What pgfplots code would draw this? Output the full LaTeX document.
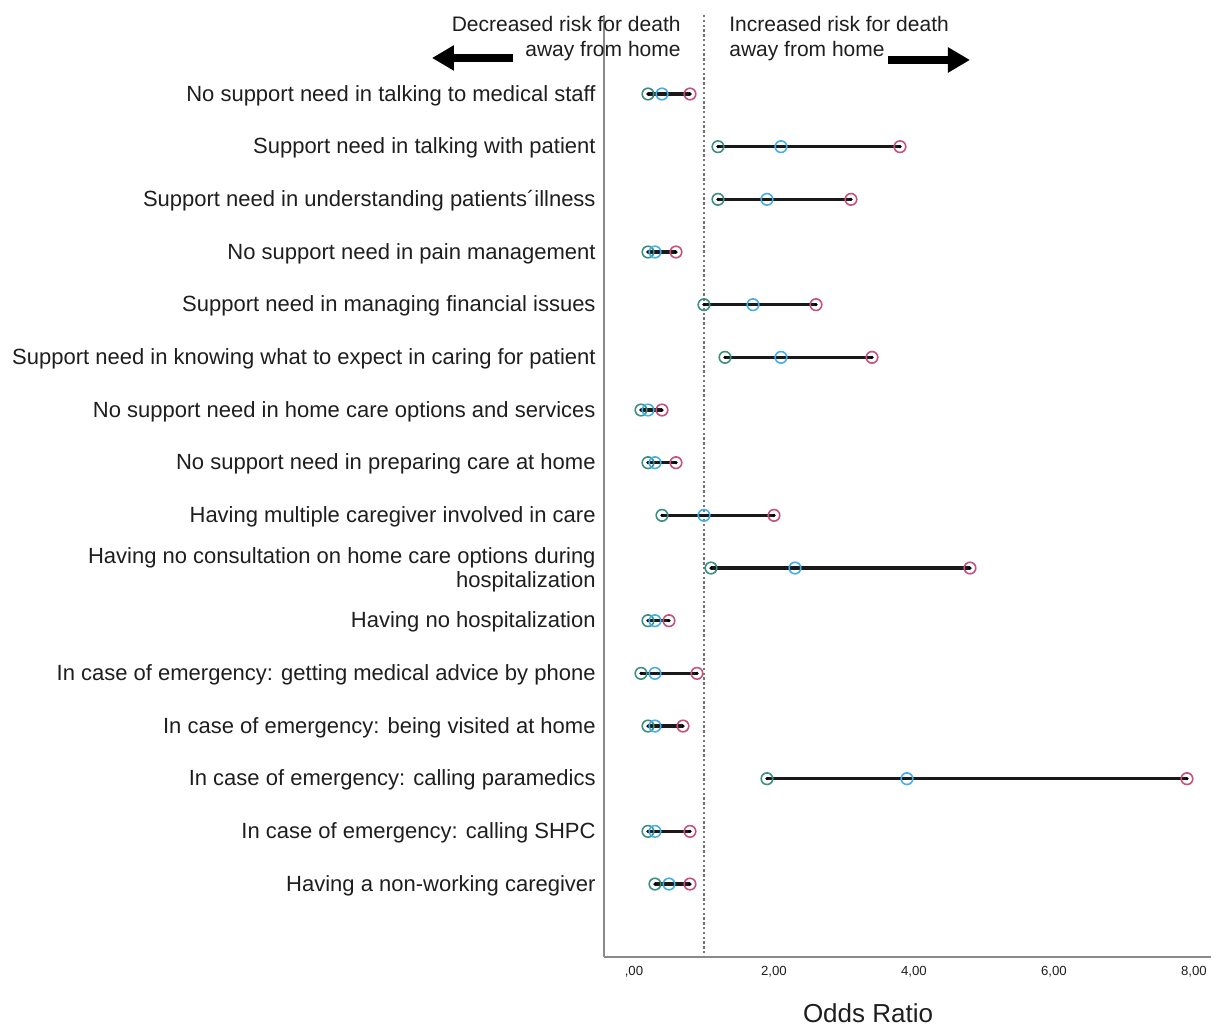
\documentclass[border=0pt]{standalone}
\usepackage{fontspec}
\setmainfont{Liberation Sans}
\usepackage{pgfplots}
\usepackage{pgfplotstable}
\pgfplotsset{compat=1.18}
\usetikzlibrary{arrows.meta}

\definecolor{lowc}{HTML}{3D8F80}
\definecolor{orc}{HTML}{45AEE8}
\definecolor{hic}{HTML}{C8507D}
\definecolor{axc}{HTML}{8A8A8A}
\definecolor{txt}{HTML}{1E1E1E}

% row, lower CI, odds ratio, upper CI
\pgfplotstableread{
y lo or hi
1 0.2 0.4 0.8
2 1.2 2.1 3.8
3 1.2 1.9 3.1
4 0.2 0.3 0.6
5 1.0 1.7 2.6
6 1.3 2.1 3.4
7 0.1 0.2 0.4
8 0.2 0.3 0.6
9 0.4 1.0 2.0
10 1.1 2.3 4.8
11 0.2 0.3 0.5
12 0.1 0.3 0.9
13 0.2 0.3 0.7
14 1.9 3.9 7.9
15 0.2 0.3 0.8
16 0.3 0.5 0.8
}\ordata

\begin{document}
\begin{tikzpicture}
\begin{axis}[
    scale only axis,
    width=303.5pt, height=471pt,
    xmin=-0.4286, xmax=8.243,
    ymin=-0.5, ymax=17.385,
    y dir=reverse,
    clip=false,
    axis x line=bottom, axis y line=left,
    axis line style={-, axc, line width=0.8pt},
    major tick length=0pt,
    xtick={0,2,4,6,8},
    xticklabels={{,00},{2,00},{4,00},{6,00},{8,00}},
    xticklabel style={font=\fontsize{6.6}{8}\selectfont, text=txt, inner sep=0pt, yshift=-4.5pt},
    ytick={1,...,16},
    yticklabels={
      No support need in talking to medical staff,
      Support need in talking with patient,
      Support need in understanding patients´illness,
      No support need in pain management,
      Support need in managing financial issues,
      Support need in knowing what to expect in caring for patient,
      No support need in home care options and services,
      No support need in preparing care at home,
      Having multiple caregiver involved in care,
      {Having no consultation on home care options during\\hospitalization},
      Having no hospitalization,
      In case of emergency: getting medical advice by phone,
      In case of emergency: being visited at home,
      In case of emergency: calling paramedics,
      In case of emergency: calling SHPC,
      Having a non-working caregiver},
    yticklabel style={font=\fontsize{11}{12}\selectfont, text=txt, align=right, inner sep=0pt, xshift=-4pt, yshift=-0.8pt},
    xlabel={Odds Ratio},
    xlabel style={font=\fontsize{13}{15}\selectfont, text=txt, at={(0.435,0)}, anchor=center, yshift=-28pt},
]
% reference line at OR = 1
\addplot[axc!85!black, line width=1.1pt, dash pattern=on 1.2pt off 1.2pt] coordinates {(1,-0.5) (1,17.385)};

% confidence intervals
\addplot[draw=none, mark=none, forget plot,
    error bars/.cd, x dir=both, x explicit,
    error bar style={black!90, line width=1.6pt}, error mark=*, error mark options={black, mark size=0.6pt}]
  table[x=or, y=y, x error plus expr=\thisrow{hi}-\thisrow{or}, x error minus expr=\thisrow{or}-\thisrow{lo}] {\ordata};

\addplot[only marks, mark=o, mark size=2.9pt, mark options={lowc, line width=0.8pt}] table[x=lo, y=y] {\ordata};
\addplot[only marks, mark=o, mark size=2.9pt, mark options={orc, line width=0.8pt}] table[x=or, y=y] {\ordata};
\addplot[only marks, mark=o, mark size=2.9pt, mark options={hic, line width=0.8pt}] table[x=hi, y=y] {\ordata};

% direction annotations
\node[anchor=east, align=right, inner sep=0pt, text=txt, font=\fontsize{10.5}{12.5}\selectfont]
  at (axis cs:0.671,-0.054) {Decreased risk for death\\away from home};
\node[anchor=west, align=left, inner sep=0pt, text=txt, font=\fontsize{10.5}{12.5}\selectfont]
  at (axis cs:1.357,-0.054) {Increased risk for death\\away from home};
\draw[line width=4pt, -{Triangle[length=11pt,width=12pt]}] (axis cs:-1.729,0.316) -- (axis cs:-2.886,0.316);
\draw[line width=4pt, -{Triangle[length=11pt,width=12pt]}] (axis cs:3.629,0.354) -- (axis cs:4.8,0.354);
\end{axis}
\pgfresetboundingbox
\path[use as bounding box] ([xshift=-302pt,yshift=-34pt]current axis.south west) rectangle ([yshift=7.5pt]current axis.north east);
\end{tikzpicture}
\end{document}
